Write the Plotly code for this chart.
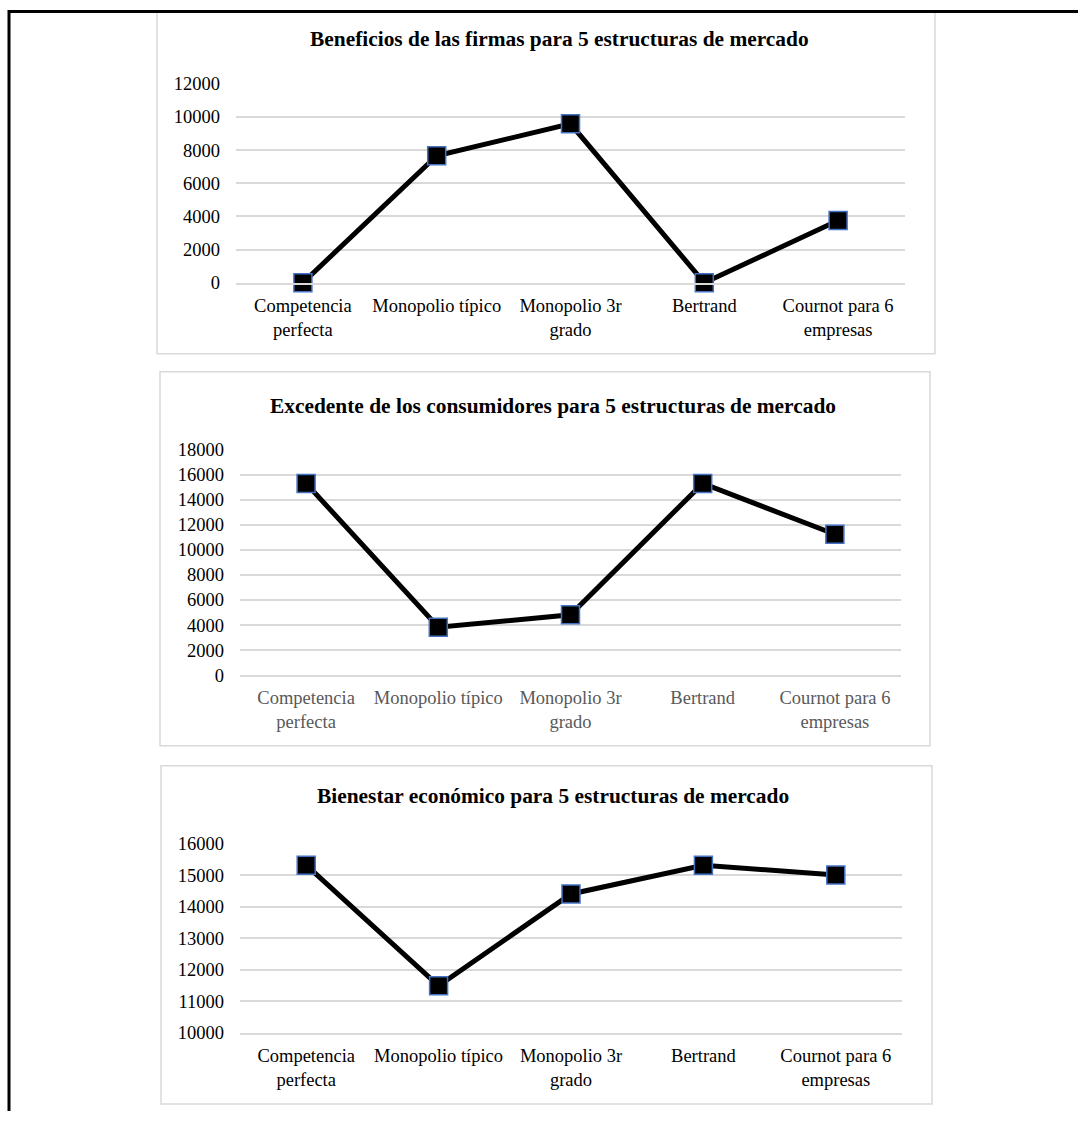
import plotly.graph_objects as go

W, H = 1078, 1121
# measured mapping of the rendered photo: y_photo = SY * y_fig + OY (x is 1:1)
SY, OY = 0.982, 9.3

categories = ["Competencia<br>perfecta", "Monopolio típico", "Monopolio 3r<br>grado",
              "Bertrand", "Cournot para 6<br>empresas"]
beneficios = [0, 7656, 9580, 0, 3750]
excedente = [15312, 3828, 4820, 15312, 11250]
bienestar = [15312, 11484, 14400, 15312, 15000]

titles = ["Beneficios de las firmas para 5 estructuras de mercado",
          "Excedente de los consumidores para 5 estructuras de mercado",
          "Bienestar económico para 5 estructuras de mercado"]
series = [beneficios, excedente, bienestar]
yranges = [[0, 12000], [0, 18000], [10000, 16000]]
dticks = [2000, 2000, 1000]
xlabel_colors = ["#000000", "#595959", "#000000"]

# layout in target pixels: plot area (x0, x1, ytop, ybottom), panel box, title center
plots = [(236, 905, 83, 282), (240, 901, 449, 674.3), (240, 902, 842.7, 1031.7)]
boxes = [(157, 5, 935, 353), (160, 371, 930, 745), (161, 765, 932, 1103)]
title_y = [38, 405, 795]
title_x = [559, 553, 553]

def px(x):
    return x / W

def py(y):
    yf = (y - OY) / SY
    return min(1 - 0.75 / H, max(0.0, 1 - yf / H))

FONT = "Liberation Serif"
fig = go.Figure()
shapes = []
annotations = []
for i in range(3):
    n = "" if i == 0 else str(i + 1)
    x0, x1, yt, yb = plots[i]
    fig.add_trace(go.Scatter(
        x=categories, y=series[i], mode="lines+markers",
        xaxis="x" + n, yaxis="y" + n, cliponaxis=False,
        line=dict(color="black", width=5),
        marker=dict(symbol="square", size=18, color="black",
                    line=dict(color="#4472C4", width=1.5)),
        showlegend=False, hoverinfo="skip"))
    fig.layout["xaxis" + n] = dict(
        domain=[px(x0), px(x1)], anchor="y" + n, type="category",
        range=[-0.5, 4.5], showgrid=False, zeroline=False,
        showline=True, linecolor="#d9d9d9", linewidth=1.5,
        ticks="", ticklabelstandoff=5,
        tickfont=dict(family=FONT, size=18.5, color=xlabel_colors[i]))
    fig.layout["yaxis" + n] = dict(
        domain=[py(yb), py(yt)], anchor="x" + n, range=yranges[i],
        dtick=dticks[i], tick0=0, tickformat="d", showgrid=True, gridcolor="#d9d9d9",
        gridwidth=1.5, zeroline=False, showline=False, ticks="",
        ticklabelstandoff=15,
        tickfont=dict(family=FONT, size=18.5, color="black"))
    bx0, by0, bx1, by1 = boxes[i]
    shapes.append(dict(type="rect", xref="paper", yref="paper",
                       x0=px(bx0), x1=px(bx1), y0=py(by1), y1=py(by0),
                       line=dict(color="#d9d9d9", width=1.5)))
    annotations.append(dict(text="<b>" + titles[i] + "</b>", xref="paper", yref="paper",
                            x=px(title_x[i]), y=py(title_y[i]), xanchor="center",
                            yanchor="middle", showarrow=False,
                            font=dict(family=FONT, size=21.4, color="black")))

# outer black frame (left and top)
shapes.append(dict(type="line", xref="paper", yref="paper", x0=px(9), x1=px(9),
                   y0=0, y1=1, line=dict(color="black", width=3)))
shapes.append(dict(type="line", xref="paper", yref="paper", x0=px(9), x1=1,
                   y0=1 - 1.5 / H, y1=1 - 1.5 / H, line=dict(color="black", width=3)))

fig.update_layout(width=W, height=H, margin=dict(l=0, r=0, t=0, b=0),
                  paper_bgcolor="white", plot_bgcolor="white",
                  shapes=shapes, annotations=annotations)
fig.write_html("out.html")
